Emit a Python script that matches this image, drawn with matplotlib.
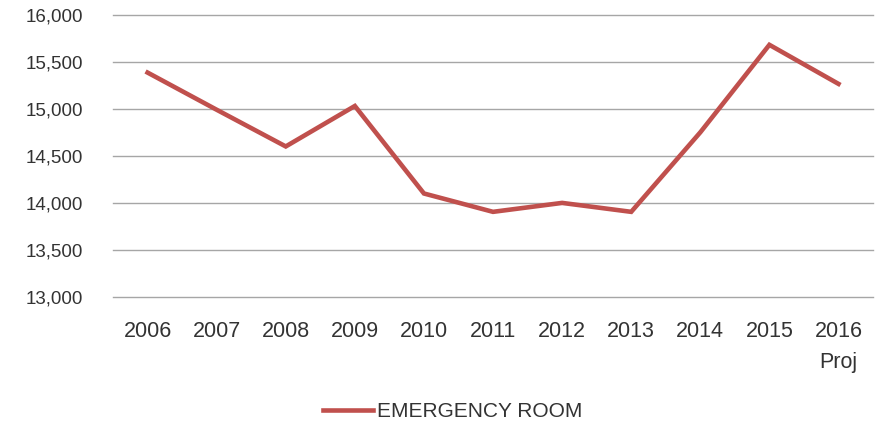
import matplotlib
matplotlib.use("Agg")
import matplotlib.pyplot as plt
from matplotlib.ticker import FuncFormatter, MultipleLocator

years = ["2006", "2007", "2008", "2009", "2010", "2011", "2012", "2013", "2014", "2015", "2016\nProj"]
er_visits = [15385, 14990, 14600, 15030, 14100, 13905, 14000, 13905, 14750, 15680, 15265]

plt.rcParams['font.family'] = ['Liberation Sans', 'DejaVu Sans']

fig = plt.figure(figsize=(8.79, 4.29), dpi=100)
ax = fig.add_axes([0.1286, 0.3077, 0.8646, 0.658])

x = list(range(len(years)))
ax.plot(x, er_visits, color="#C0504D", linewidth=3.3, solid_joinstyle="miter",
        label="EMERGENCY ROOM", zorder=3)

ax.set_xlim(-0.5, len(years) - 0.5)
ax.set_ylim(13000, 16000)
ax.yaxis.set_major_locator(MultipleLocator(500))
ax.yaxis.set_major_formatter(FuncFormatter(lambda v, p: f"{int(v):,}"))
ax.set_xticks(x)
ax.set_xticklabels(years, linespacing=1.65)
ax.grid(axis="y", color="#A6A6A6", linewidth=1.0)
for gl in ax.get_ygridlines():
    gl.set_clip_on(False)
ax.set_axisbelow(True)
for s in ax.spines.values():
    s.set_visible(False)
ax.tick_params(axis="both", length=0, colors="#333333")
ax.tick_params(axis="y", pad=21.5, labelsize=13.5)
ax.tick_params(axis="x", pad=17, labelsize=15.5)
for lbl in ax.get_xticklabels():
    lbl.set_verticalalignment("top")

leg = fig.legend(loc="center", bbox_to_anchor=(0.515, 0.04), frameon=False,
                 fontsize=15, handlelength=2.4, handletextpad=0.15)
for t in leg.get_texts():
    t.set_color("#333333")

fig.savefig("out.png", dpi=100)
